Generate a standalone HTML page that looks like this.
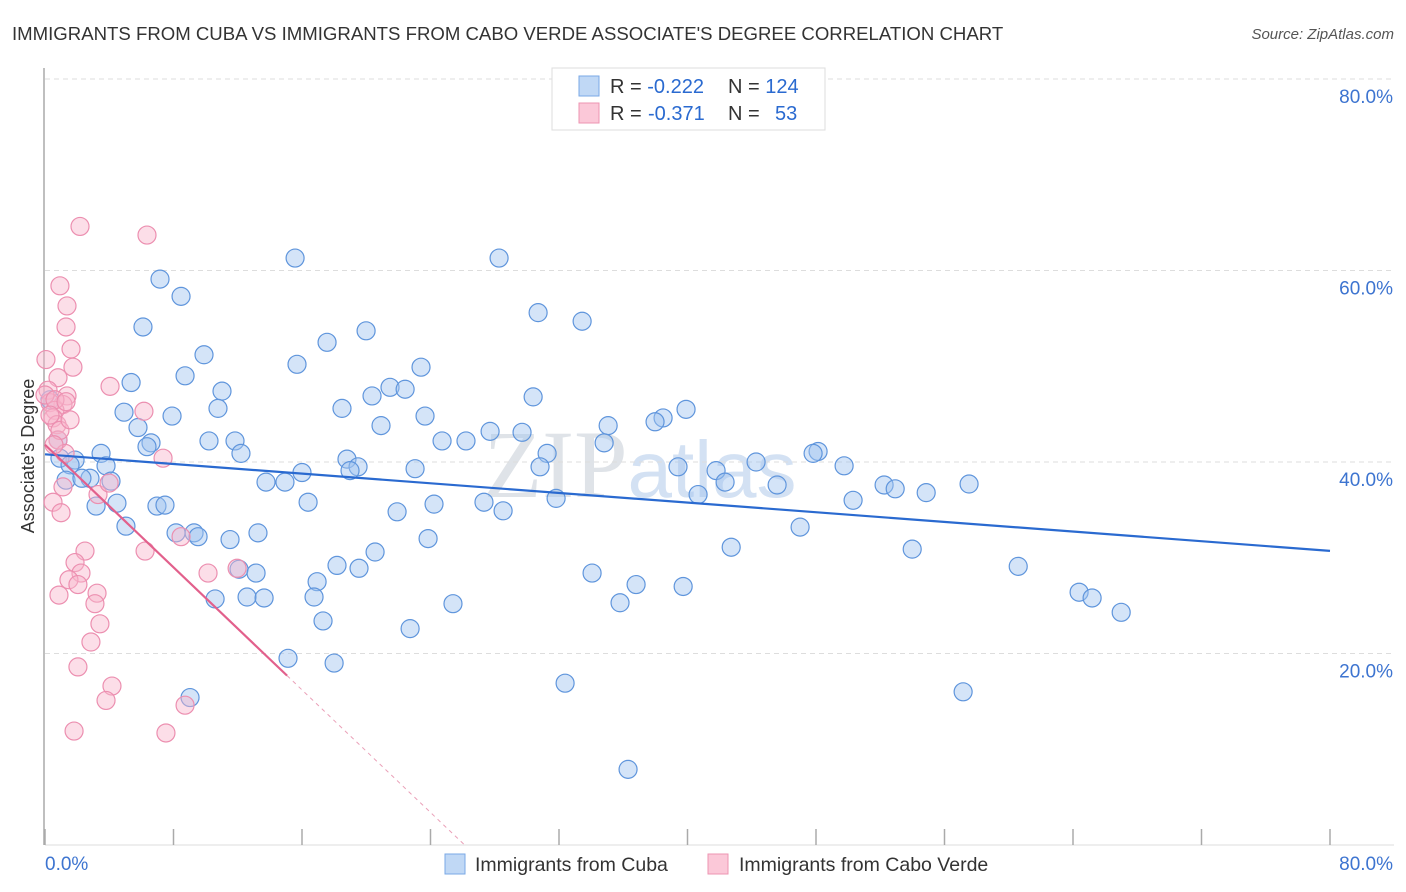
<!DOCTYPE html>
<html><head><meta charset="utf-8"><style>
body{margin:0;background:#fff;font-family:"Liberation Sans",sans-serif;}
#wrap{position:relative;width:1406px;height:892px;overflow:hidden;}
svg{position:absolute;left:0;top:0;}
</style></head><body>
<div id="wrap">
<svg id="chart" width="1406" height="892">
<text x="12" y="40" font-size="18.6" fill="#333">IMMIGRANTS FROM CUBA VS IMMIGRANTS FROM CABO VERDE ASSOCIATE'S DEGREE CORRELATION CHART</text>
<text x="1394" y="39" font-size="15" fill="#555" font-style="italic" text-anchor="end">Source: ZipAtlas.com</text>
<text x="34" y="456" font-size="18" fill="#333" text-anchor="middle" transform="rotate(-90 34 456)">Associate's Degree</text>
<text x="640" y="497" font-size="96" fill="#dfe3e8" font-family="Liberation Serif,serif" text-anchor="middle">ZIP<tspan font-family="Liberation Sans,sans-serif" font-size="80" fill="#d3e1f3">atlas</tspan></text>
<g id="grid"></g><g id="marks"></g>
<g>
<rect x="552" y="68" width="273" height="62" fill="#fff" stroke="#ddd"/>
<rect x="579" y="76" width="20" height="20" fill="#c0d8f5" stroke="#7aa8e6"/>
<rect x="579" y="103" width="20" height="20" fill="#fbc8d8" stroke="#ee94b2"/>
<text x="610" y="93" font-size="20" fill="#333">R = <tspan fill="#2a6ad0">-0.222</tspan><tspan x="728">N = </tspan><tspan fill="#2a6ad0">124</tspan></text>
<text x="610" y="120" font-size="20" fill="#333">R = <tspan fill="#2a6ad0" x="648">-0.371</tspan><tspan x="728">N = </tspan><tspan fill="#2a6ad0" x="775">53</tspan></text>
</g>
<g>
<rect x="445" y="854" width="20" height="20" fill="#c0d8f5" stroke="#7aa8e6"/>
<text x="475" y="871" font-size="19.5" fill="#333">Immigrants from Cuba</text>
<rect x="708" y="854" width="20" height="20" fill="#fbc8d8" stroke="#ee94b2"/>
<text x="739" y="871" font-size="19.5" fill="#333">Immigrants from Cabo Verde</text>
</g>
</svg>
</div>
<script>
const yTicks=[20,40,60,80];
const xTickVals=[0,8,16,24,32,40,48,56,64,72,80];
const cubaX=[15.57,28.27,7.16,8.47,30.70,33.44,6.10,19.99,17.56,9.90,15.69,23.41,8.72,5.36,21.48,22.42,11.02,30.39,20.36,4.92,10.77,18.49,7.91,23.66,39.91,38.48,37.98,35.06,20.92,5.79,27.71,29.70,6.60,6.35,10.21,11.83,24.72,26.21,34.81,31.26,12.20,48.13,47.82,3.49,1.87,0.93,18.80,1.56,3.80,39.41,44.27,49.75,30.82,19.49,18.99,16.00,23.04,41.78,2.80,1.31,2.30,4.11,13.76,14.94,42.34,45.58,52.24,57.53,52.93,54.86,40.66,31.82,16.38,24.22,27.33,4.48,3.18,6.97,7.47,28.52,21.92,50.31,5.04,47.01,8.16,9.28,9.53,13.26,11.52,23.85,42.72,53.99,20.55,18.18,19.55,12.08,13.14,60.59,34.06,16.94,36.80,39.73,64.38,65.19,10.59,12.58,13.64,16.75,35.80,25.40,67.00,17.31,22.73,15.13,18.00,32.38,57.16,9.03,36.30,0.81,0.31];
const cubaY=[61.3,61.3,59.1,57.3,55.6,54.7,54.1,53.7,52.5,51.2,50.2,49.9,49.0,48.3,47.8,47.6,47.4,46.8,46.9,45.2,45.6,45.6,44.8,44.8,45.5,44.6,44.2,43.8,43.8,43.6,43.2,43.1,42.0,41.6,42.2,42.2,42.2,42.2,42.0,40.9,40.9,41.1,40.9,40.9,40.2,40.4,40.3,39.7,39.6,39.5,40.0,39.6,39.5,39.5,39.1,38.9,39.3,39.1,38.3,38.1,38.3,38.0,37.9,37.9,37.9,37.6,37.6,37.7,37.2,36.8,36.6,36.2,35.8,35.6,35.8,35.7,35.4,35.4,35.5,34.9,34.8,36.0,33.3,33.2,32.6,32.6,32.2,32.6,31.9,32.0,31.1,30.9,30.6,29.2,28.9,28.8,28.4,29.1,28.4,27.5,27.2,27.0,26.4,25.8,25.7,25.9,25.8,25.9,25.3,25.2,24.3,23.4,22.6,19.5,19.0,16.9,16.0,15.4,7.9,42.3,46.5];
const caboX=[2.18,6.35,0.93,1.37,1.31,1.62,0.06,1.74,0.81,4.05,1.37,6.16,0.19,1.12,0.31,0.62,0.50,0.75,0.81,1.25,7.35,1.12,3.30,3.99,0.50,1.00,8.47,6.23,2.49,1.87,2.24,1.49,2.05,0.87,3.24,3.11,3.42,2.86,11.96,10.15,2.05,4.17,3.80,8.72,1.81,7.53,0,0.62,0.31,0.93,0.56,1.56,1.31];
const caboY=[64.6,63.7,58.4,56.3,54.1,51.8,50.7,49.9,48.8,47.9,46.9,45.3,47.5,46.0,46.2,45.4,44.6,43.9,42.3,40.9,40.4,37.4,36.6,37.8,35.8,34.7,32.2,30.7,30.7,29.5,28.4,27.7,27.2,26.1,26.3,25.2,23.1,21.2,28.9,28.4,18.6,16.6,15.1,14.6,11.9,11.7,47.0,46.5,44.9,43.3,41.8,44.4,46.3];
const cubaFit=[40.8,-0.126];
const caboFit=[41.8,-1.60];
const caboSolidEnd=15.07;

const NS='http://www.w3.org/2000/svg';
const X0=45,X1=1330,Y0=845,Y1=79;
const sx=v=>X0+(v/80)*(X1-X0);
const sy=v=>Y0-(v/80)*(Y0-Y1);
function mk(tag,attrs,parent){const e=document.createElementNS(NS,tag);for(const k in attrs)e.setAttribute(k,attrs[k]);parent.appendChild(e);return e;}
const grid=document.getElementById('grid'),marks=document.getElementById('marks');
yTicks.forEach(t=>{
 const l=mk('line',{x1:X0,x2:1394,y1:sy(t),y2:sy(t),stroke:'#ddd','stroke-dasharray':'5,4'},grid);
 
 
 const tx=mk('text',{x:1393,y:sy(t)+24,'font-size':19,fill:'#3d74d0','text-anchor':'end'},grid);
 tx.textContent=t.toFixed(1)+'%';
 
 
});
const ax=mk('line',{x1:44,x2:44,y1:68,y2:Y0,stroke:'#aaa','stroke-width':1.5},grid);


const bx=mk('line',{x1:X0,x2:1394,y1:Y0,y2:Y0,stroke:'#ddd'},grid);


xTickVals.forEach(t=>{
 const l=mk('line',{x1:sx(t),x2:sx(t),y1:Y0,y2:Y0-16,stroke:'#aaa','stroke-width':1.5},grid);
 
 
});
const xl0=mk('text',{x:45,y:870,'font-size':19,fill:'#3d74d0'},grid);xl0.textContent='0.0%';


const xl1=mk('text',{x:1393,y:870,'font-size':19,fill:'#3d74d0','text-anchor':'end'},grid);xl1.textContent='80.0%';



cubaX.forEach((v,i)=>{
 const c=mk('circle',{cx:sx(v),cy:sy(cubaY[i]),r:9,fill:'rgba(160,196,240,0.45)',stroke:'#5f95dc','stroke-width':1.2},marks);
 
 
});
caboX.forEach((v,i)=>{
 const c=mk('circle',{cx:sx(v),cy:sy(caboY[i]),r:9,fill:'rgba(248,182,204,0.45)',stroke:'#ec8fb0','stroke-width':1.2},marks);
 
 
});
const bl=mk('line',{x1:sx(0),y1:sy(cubaFit[0]),x2:sx(80),y2:sy(cubaFit[0]+cubaFit[1]*80),stroke:'#2a6ad0','stroke-width':2.2},marks);


const pl=mk('line',{x1:sx(0),y1:sy(caboFit[0]),x2:sx(caboSolidEnd),y2:sy(caboFit[0]+caboFit[1]*caboSolidEnd),stroke:'#e2608c','stroke-width':2.2},marks);


const zx=-caboFit[0]/caboFit[1];
const pd=mk('line',{x1:sx(caboSolidEnd),y1:sy(caboFit[0]+caboFit[1]*caboSolidEnd),x2:sx(zx),y2:sy(0),stroke:'#eaa0b8','stroke-width':1,'stroke-dasharray':'4,4'},marks);


</script>
</body></html>
